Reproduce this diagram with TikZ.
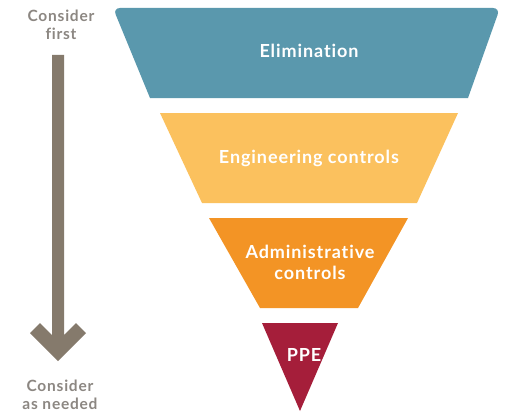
\documentclass[tikz,border=0pt]{standalone}
\usepackage{fontspec}
\setmainfont{Lato}
\newfontfamily\spaced[LetterSpace=5.0,Ligatures={NoCommon,NoRare,NoDiscretionary}]{Lato}
\definecolor{elim}{HTML}{5A98AD}
\definecolor{engi}{HTML}{FBC15E}
\definecolor{admin}{HTML}{F39425}
\definecolor{ppe}{HTML}{A51E3A}
\definecolor{arrowgray}{HTML}{857A6C}
\definecolor{textgray}{HTML}{8C8782}
\begin{document}
\begin{tikzpicture}[x=1pt,y=-1pt,
  label/.style={text=white,font=\spaced\fontsize{18}{21}\selectfont\bfseries,align=center,inner sep=0pt},
  side/.style={text=textgray,font=\spaced\fontsize{15.5}{17.5}\selectfont\bfseries,align=center,inner sep=0pt}]
\useasboundingbox (0,0) rectangle (506,412);
\fill[white] (0,0) rectangle (506,412);
% Elimination
\fill[elim] (150,98) [rounded corners=7pt] -- (113,8) -- (500,8) [sharp corners] -- (468,98) -- cycle;
% Engineering
\fill[engi] (160,113) -- (458,113) -- (417,203) -- (202,203) -- cycle;
% Administrative
\fill[admin] (209,218) -- (408,218) -- (358,308) -- (260,308) -- cycle;
% PPE
\fill[ppe] (262,323) -- (338,323) -- (300,411) -- cycle;
% Arrow
\fill[arrowgray] (52,55) -- (64,55) -- (64,335) -- (76,323) -- (86,333) -- (58,361) -- (30,333) -- (40,323) -- (52,335) -- cycle;
% Labels
\node[label] (l1) at (309,51) {Elimination};
\node[label] (l2) at (309,158) {Engineering controls};
\node[label] (l3) at (310,262) {Administrative\\controls};
\node[label] (l4) at (304,355) {PPE};
\node[side] (s1) at (61,25) {Consider\\first};
\node[side] (s2) at (60,395) {Consider\\as needed};
\end{tikzpicture}
\end{document}
